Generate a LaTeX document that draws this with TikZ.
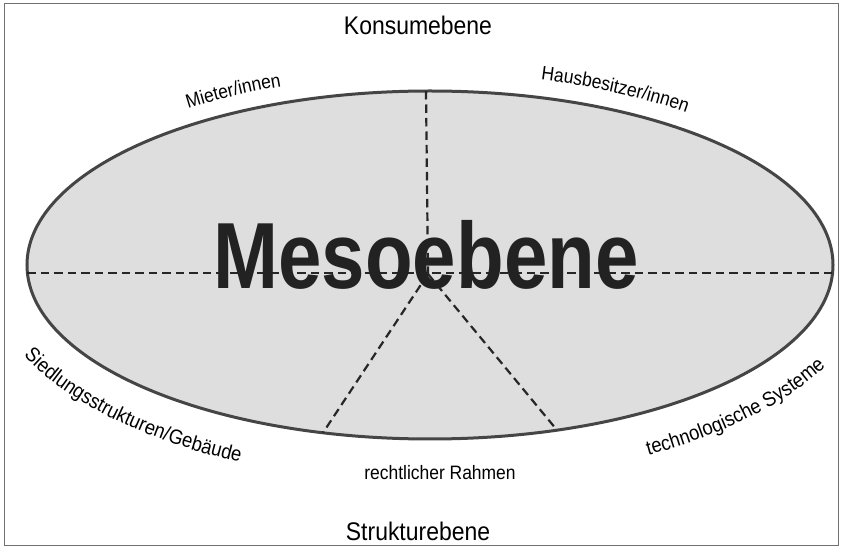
\documentclass[tikz,border=0pt]{standalone}
\usepackage{fontspec}
\setmainfont{Liberation Sans}[FakeStretch=0.9]
\newfontfamily\corefont{Liberation Sans}[FakeStretch=0.83]
\usetikzlibrary{decorations.text}
\definecolor{ringfill}{HTML}{DEDEDE}
\definecolor{ringline}{HTML}{454545}
\definecolor{divline}{HTML}{262626}
\definecolor{framecol}{HTML}{707070}
\definecolor{coretext}{HTML}{222222}

\begin{document}
\begin{tikzpicture}[x=1pt,y=1pt,
  frame/.style={draw=framecol, line width=1pt},
  ring/.style={draw=ringline, fill=ringfill, line width=3pt},
  divider/.style={draw=divline, line width=2.2pt, dash pattern=on 8.5pt off 5pt},
  levellabel/.style={font=\fontsize{25.5}{30}\selectfont, inner sep=0pt, anchor=base},
  sectorlabel/.style={font=\fontsize{19.4}{23}\selectfont, inner sep=0pt, anchor=base},
  corelabel/.style={font=\corefont\fontsize{94}{110}\selectfont\bfseries, text=coretext,
    inner sep=0pt, anchor=base},
  arclabel/.style 2 args={decorate, decoration={text along path, text align=center,
    text={|\fontsize{#1}{23}\selectfont|#2}}}
]

\useasboundingbox (0,0) rectangle (841,549);
\draw[frame] (4,3) rectangle (838,545);

% the meso level as a filled ellipse
\coordinate (c) at (430,284);
\path[ring] (c) ellipse [x radius=403, y radius=174];

% points where the dividing lines meet
\coordinate (hub) at (428,275);
\coordinate (west) at (27.4,276);
\coordinate (east) at (832.6,276);
\coordinate (north) at (426,458);
\coordinate (sw) at (323,116.3);
\coordinate (se) at (557,118.9);

\draw[divider] (west) -- (east);
\draw[divider] (north) -- (hub);
\draw[divider] (hub) -- (sw);
\draw[divider] (hub) -- (se);

\node[corelabel] (meso) at (426,260) {Mesoebene};

\node[levellabel] (konsum) at (418,514) {Konsumebene};
\node[levellabel] (struktur) at (418,9) {Strukturebene};
\node[sectorlabel] (recht) at (440,69) {rechtlicher Rahmen};

% sector names set along arcs around the ellipse
\path[arclabel={19.4}{Mieter/innen}]
  (c) ++(145:420 and 191) arc[start angle=145, end angle=95, x radius=420, y radius=191];
\path[arclabel={19.4}{Hausbesitzer/innen}]
  (c) ++(86.9:421 and 192) arc[start angle=86.9, end angle=36.9, x radius=421, y radius=192];
\path[arclabel={20.5}{Siedlungsstrukturen/Gebäude}]
  (c) ++(192.2:447 and 218) arc[start angle=192.2, end angle=252.2, x radius=447, y radius=218];
\path[arclabel={20.5}{technologische Systeme}]
  (c) ++(289:447 and 218) arc[start angle=289, end angle=349, x radius=447, y radius=218];
\end{tikzpicture}
\end{document}
